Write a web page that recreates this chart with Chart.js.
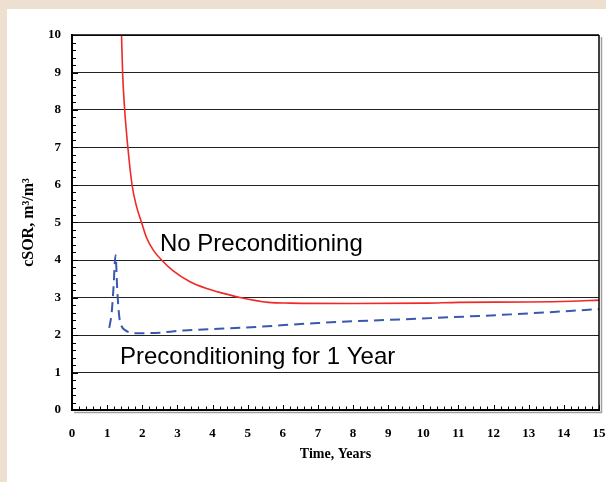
<!DOCTYPE html>
<html>
<head>
<meta charset="utf-8">
<script src="https://cdn.jsdelivr.net/npm/chart.js@4/dist/chart.umd.min.js"></script>
<style>
html,body{margin:0;padding:0;background:#ede0d0;}
canvas{display:block;}
</style>
</head>
<body>
<canvas id="c" width="606" height="482"></canvas>
<script>
// ---- data ----
const xTicks = [0,1,2,3,4,5,6,7,8,9,10,11,12,13,14,15];
const yTicks = [0,1,2,3,4,5,6,7,8,9,10];

const noPrecondX = [1.41,1.44,1.50,1.59,1.71,1.83,1.98,2.12,2.31,2.55,2.88,3.36,3.83,4.31,4.78,5.59,6.2,8,10.1,11,13,14.2,15];
const noPrecondY = [10,9,8,7,6,5.45,5,4.6,4.27,4.0,3.71,3.42,3.24,3.11,3.0,2.87,2.85,2.84,2.85,2.87,2.88,2.9,2.93];

const precondX = [1.06,1.13,1.18,1.24,1.29,1.35,1.42,1.51,1.75,2.22,3.17,4.97,7,10.2,12.5,15];
const precondY = [2.19,2.6,3.25,4.13,3.16,2.45,2.22,2.13,2.05,2.05,2.12,2.2,2.32,2.45,2.55,2.69];

const labelNoPre = {text:'No Preconditioning', x:2.505, y:4.25};
const labelPre = {text:'Preconditioning for 1 Year', x:1.366, y:1.227};

const xTitle = 'Time, Years';
const yTitle = 'cSOR, m³/m³';

const toPts = (xs, ys) => xs.map((x,i)=>({x:x, y:ys[i]}));

const decor = {
  id:'decor',
  beforeDraw(chart){
    const c = chart.ctx;
    c.save();
    c.fillStyle = '#ede0d0';
    c.fillRect(0,0,chart.width,chart.height);
    c.fillStyle = '#ffffff';
    c.fillRect(7,9,chart.width-7,chart.height-9);
    c.restore();
  },
  afterDraw(chart){
    const c = chart.ctx;
    const a = chart.chartArea;
    const xs = chart.scales.x, ys = chart.scales.y;
    c.save();
    // shadow
    c.strokeStyle = '#a0a0a0';
    c.lineWidth = 1.5;
    c.beginPath();
    c.moveTo(a.right+2.5, a.top+2); c.lineTo(a.right+2.5, a.bottom+2.5); c.lineTo(a.left+2, a.bottom+2.5);
    c.stroke();
    // right border
    c.strokeStyle = '#000';
    c.lineWidth = 1.5;
    c.beginPath(); c.moveTo(a.right, a.top); c.lineTo(a.right, a.bottom); c.stroke();
    // top border
    c.beginPath(); c.moveTo(a.left, a.top); c.lineTo(a.right, a.top); c.stroke();
    // minor ticks on y (inside)
    c.lineWidth = 1;
    for (let v = 0; v <= 10.0001; v += 0.2) {
      const y = Math.round(ys.getPixelForValue(v)) + 0.5;
      const major = Math.abs(v - Math.round(v)) < 1e-6;
      c.beginPath(); c.moveTo(a.left, y); c.lineTo(a.left + (major?6:4), y); c.stroke();
    }
    // minor ticks on x (inside, upward)
    for (let v = 0; v <= 15.0001; v += 0.2) {
      const x = Math.round(xs.getPixelForValue(v)) + 0.5;
      const major = Math.abs(v - Math.round(v)) < 1e-6;
      c.beginPath(); c.moveTo(x, a.bottom); c.lineTo(x, a.bottom - (major?5:3.5)); c.stroke();
    }
    // text labels
    c.fillStyle = '#000';
    c.font = '24px "Liberation Sans", Arial, sans-serif';
    c.textAlign = 'left';
    c.textBaseline = 'alphabetic';
    for (const L of [labelNoPre, labelPre]) {
      c.fillText(L.text, xs.getPixelForValue(L.x), ys.getPixelForValue(L.y));
    }
    c.restore();
  }
};

new Chart(document.getElementById('c'), {
  type: 'line',
  data: {
    datasets: [
      {
        label: 'No Preconditioning',
        data: toPts(noPrecondX, noPrecondY),
        borderColor: '#f02828',
        borderWidth: 1.6,
        pointRadius: 0,
        cubicInterpolationMode: 'monotone',
        fill: false
      },
      {
        label: 'Preconditioning for 1 Year',
        data: toPts(precondX, precondY),
        borderColor: '#3a58b0',
        borderWidth: 2,
        borderDash: [10,6],
        pointRadius: 0,
        cubicInterpolationMode: 'monotone',
        fill: false
      }
    ]
  },
  options: {
    responsive: false,
    animation: false,
    devicePixelRatio: 1,
    layout: { padding: { left: 0, top: 35, right: 7, bottom: 0 } },
    plugins: { legend: { display: false }, tooltip: { enabled: false } },
    scales: {
      x: {
        type: 'linear',
        min: 0, max: 15,
        afterFit: s => { s.height = 72; s.paddingLeft = 0; s.paddingRight = 0; },
        afterBuildTicks: s => { s.ticks = xTicks.map(v => ({value: v})); },
        grid: { drawOnChartArea: false, drawTicks: false },
        border: { color: '#000', width: 2 },
        ticks: {
          padding: 16,
          color: '#000',
          font: { family: '"Liberation Serif", "Times New Roman", serif', size: 13, weight: 'bold' }
        },
        title: {
          display: true,
          text: xTitle,
          color: '#000',
          padding: { top: 0, bottom: 19 },
          font: { family: '"Liberation Serif", "Times New Roman", serif', size: 14, weight: 'bold' }
        }
      },
      y: {
        type: 'linear',
        min: 0, max: 10,
        afterFit: s => { s.width = 72; s.paddingTop = 0; s.paddingBottom = 0; },
        afterBuildTicks: s => { s.ticks = yTicks.map(v => ({value: v})); },
        grid: { color: '#222', lineWidth: 1, drawTicks: false },
        border: { color: '#000', width: 2 },
        ticks: {
          padding: 11,
          color: '#000',
          font: { family: '"Liberation Serif", "Times New Roman", serif', size: 13, weight: 'bold' }
        },
        title: {
          display: true,
          text: yTitle,
          color: '#000',
          padding: { top: 19, bottom: 0 },
          font: { family: '"Liberation Serif", "Times New Roman", serif', size: 16, weight: 'bold' }
        }
      }
    }
  },
  plugins: [decor]
});
</script>
</body>
</html>
